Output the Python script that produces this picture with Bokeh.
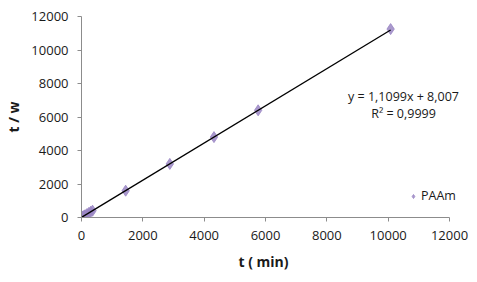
from bokeh.plotting import figure
from bokeh.models import Range1d, FixedTicker, Legend, LegendItem, Label, Title
from bokeh.embed import file_html
from bokeh.resources import INLINE
import numpy as np

t_min = [0, 30, 60, 90, 120, 180, 240, 300, 360, 1440, 2880, 4320, 5760, 10080]
t_over_w = [0, 40, 75, 105, 140, 205, 275, 340, 405, 1600, 3200, 4800, 6400, 11250]
slope = 1.1099
intercept = 8.007
x_ticks = [0, 2000, 4000, 6000, 8000, 10000, 12000]
y_ticks = [0, 2000, 4000, 6000, 8000, 10000, 12000]
eq_text = "y = 1,1099x + 8,007"
r2_text = "R² = 0,9999"
series_name = "PAAm"
x_title = "t ( min)"
y_title = "t / w"

FONT = "Open Sans"

# frame: left 81, right 470 px; x axis drawn from 0 to 12000 (ending at 449 px)
frame_left, frame_right, axis_end_px = 81, 470, 449
x_end = 12000 * (frame_right - frame_left) / (axis_end_px - frame_left)

p = figure(width=477, height=282, output_backend="svg", toolbar_location=None,
           x_range=Range1d(0, x_end), y_range=Range1d(0, 12000),
           min_border_left=frame_left, min_border_right=477 - frame_right,
           min_border_top=16, min_border_bottom=65)
p.outline_line_color = None
p.grid.grid_line_color = None
p.background_fill_color = "white"
p.border_fill_color = "white"

for ax, ticks in ((p.xaxis[0], x_ticks), (p.yaxis[0], y_ticks)):
    ax.ticker = FixedTicker(ticks=ticks)
    ax.bounds = (0, 12000)
    ax.axis_line_color = "#8c8c8c"
    ax.major_tick_line_color = "#8c8c8c"
    ax.major_tick_out = 4
    ax.major_tick_in = 0
    ax.minor_tick_line_color = None
    ax.major_label_text_font = FONT
    ax.major_label_text_font_size = "13px"
    ax.major_label_text_color = "#1a1a1a"
    ax.axis_label_text_font = FONT
    ax.axis_label_text_font_style = "bold"
    ax.axis_label_text_font_size = "14px"
    ax.axis_label_text_color = "#1a1a1a"

p.yaxis.axis_label = y_title
p.xaxis.major_label_standoff = 9
p.yaxis.major_label_standoff = 9
p.yaxis.axis_label_standoff = 5

# x-axis title centred under the 0..12000 axis span (not the wider frame)
xt = Title(text=x_title, align="left", offset=(axis_end_px - frame_left) / 2 - 27,
           text_font=FONT, text_font_style="bold", text_font_size="14px",
           text_color="#1a1a1a", standoff=14)
p.add_layout(xt, "below")

pts = p.scatter(t_min, t_over_w, marker="diamond", size=11,
                fill_color="#9b87c4", line_color="#9b87c4", fill_alpha=0.85, line_alpha=0.85)

xs = np.array([min(t_min), max(t_min)], dtype=float)
p.line(xs, slope * xs + intercept, line_color="black", line_width=1.3)

p.add_layout(Label(x=403 - frame_left, y=121, x_units="screen", y_units="screen", text=eq_text,
                   text_font=FONT, text_font_size="12.5px", text_align="center",
                   text_baseline="middle", text_color="#1a1a1a"))
p.add_layout(Label(x=403 - frame_left, y=104, x_units="screen", y_units="screen", text=r2_text,
                   text_font=FONT, text_font_size="12.5px", text_align="center",
                   text_baseline="middle", text_color="#1a1a1a"))

legend = Legend(items=[LegendItem(label=series_name, renderers=[pts])],
                location=(327, 13), background_fill_alpha=0, border_line_color=None,
                label_text_font=FONT, label_text_font_size="12.5px", label_text_color="#1a1a1a",
                glyph_width=10, glyph_height=10, label_standoff=3, padding=0, margin=0)
p.add_layout(legend)

open("out.html", "w").write(file_html(p, INLINE))
